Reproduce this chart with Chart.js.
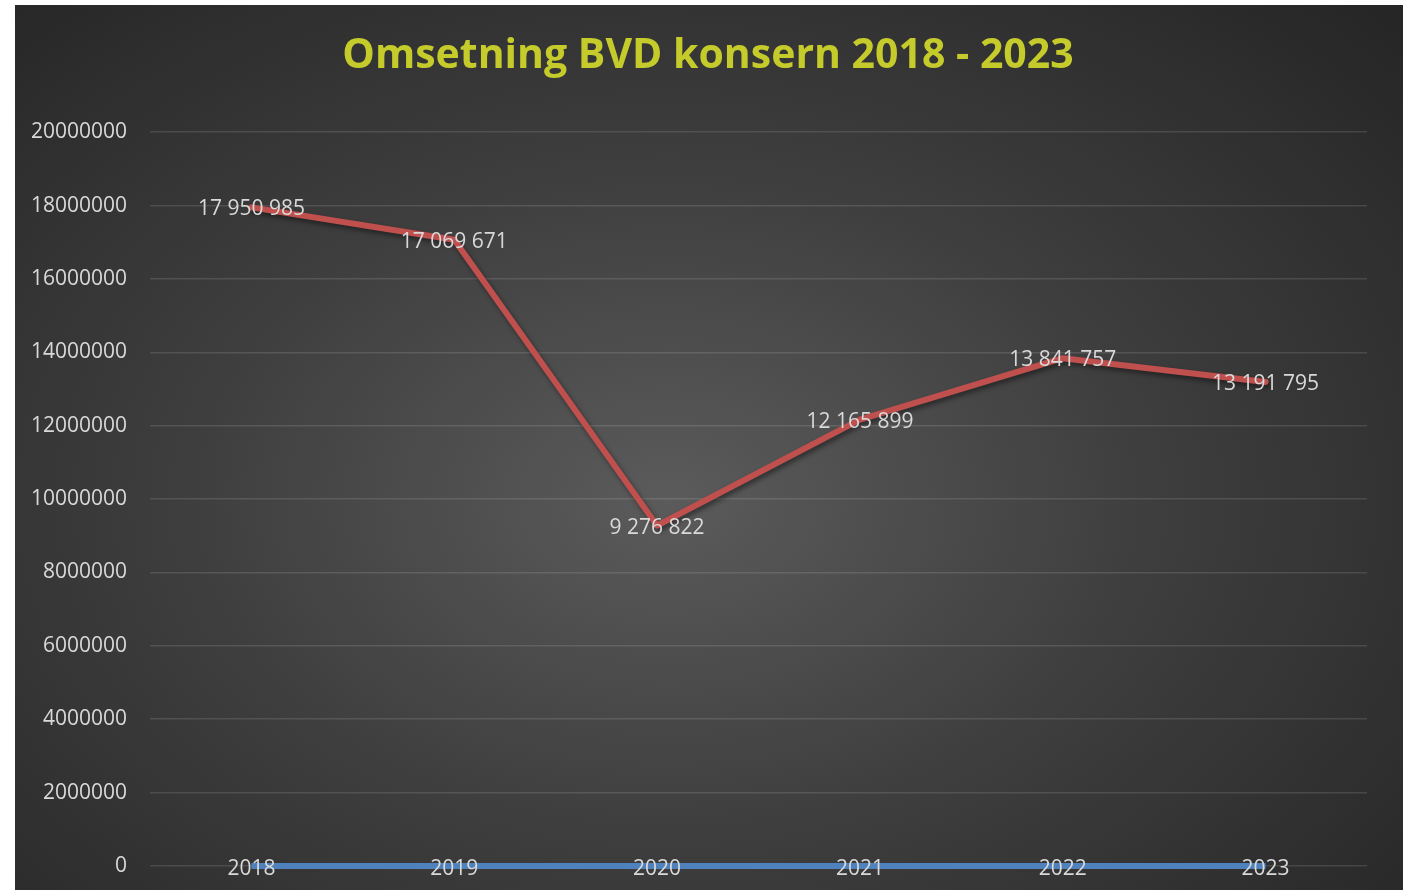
<!DOCTYPE html>
<html><head><meta charset="utf-8">
<script src="https://cdn.jsdelivr.net/npm/chart.js@4.4.0/dist/chart.umd.min.js"></script>
<style>
html,body{margin:0;padding:0;background:#ffffff;}
#wrap{position:absolute;left:15px;top:5px;width:1388px;height:885px;
background:radial-gradient(ellipse 72% 78% at 47% 56%, #5b5b5b 0%, #3d3d3d 50%, #262626 100%);}
</style></head><body>
<div id="wrap"><canvas id="c"></canvas></div>
<script>
const categories = ['2018', '2019', '2020', '2021', '2022', '2023'];
const revenue = [17950985, 17069671, 9276822, 12165899, 13841757, 13191795];
const baseline = [0, 0, 0, 0, 0, 0];
const yMin = 0, yMax = 20000000, yStep = 2000000;
const titleText = 'Omsetning BVD konsern 2018 - 2023';

function fmtSpace(v){ return String(v).replace(/\B(?=(\d{3})+(?!\d))/g, ' '); }

const shadowPlugin = {
  id: 'lineShadow',
  beforeDatasetDraw(chart, args){
    if (args.index === 0){
      const ctx = chart.ctx; ctx.save();
      ctx.shadowColor = 'rgba(0,0,0,0.45)'; ctx.shadowBlur = 5;
      ctx.shadowOffsetX = 2; ctx.shadowOffsetY = 3;
    }
  },
  afterDatasetDraw(chart, args){ if (args.index === 0) chart.ctx.restore(); }
};

const valueLabels = {
  id: 'valueLabels',
  afterDatasetsDraw(chart){
    const meta = chart.getDatasetMeta(0);
    const ctx = chart.ctx;
    ctx.save();
    ctx.font = '21px "Open Sans"';
    ctx.fillStyle = '#d9d9d9';
    ctx.textAlign = 'center'; ctx.textBaseline = 'middle';
    meta.data.forEach((pt, i) => ctx.fillText(fmtSpace(revenue[i]), pt.x, pt.y + 2));
    ctx.restore();
  }
};

new Chart(document.getElementById('c'), {
  type: 'line',
  data: {
    labels: categories,
    datasets: [
      { label: 'Omsetning', data: revenue, borderColor: '#c0504d', borderWidth: 6, clip: 8,
        pointRadius: 0, tension: 0, fill: false, borderCapStyle: 'round', borderJoinStyle: 'round' },
      { label: 'Basis', data: baseline, borderColor: '#4f81bd', borderWidth: 6, clip: 8,
        pointRadius: 0, tension: 0, fill: false }
    ]
  },
  options: {
    responsive: true, maintainAspectRatio: false, animation: false,
    layout: { padding: { left: 16, right: 18, top: 0, bottom: 0 } },
    plugins: {
      legend: { display: false }, tooltip: { enabled: false },
      title: { display: true, text: titleText, color: '#c5cb2b',
        font: { family: '"Open Sans"', size: 41, weight: 'bold' },
        padding: { top: 27, bottom: 51 } }
    },
    scales: {
      x: { offset: true, grid: { display: false }, border: { display: false },
        afterFit: s => { s.height = 24; },
        ticks: { z: 1, mirror: true, color: '#d9d9d9', padding: -16, maxRotation: 0,
          font: { family: '"Open Sans"', size: 21 } } },
      y: { min: yMin, max: yMax, border: { display: false },
        afterFit: s => { s.width = 119; },
        grid: { color: 'rgba(255,255,255,0.12)', lineWidth: 1.5, drawTicks: true,
          tickLength: 23, tickColor: 'rgba(0,0,0,0)' },
        ticks: { stepSize: yStep, color: '#d9d9d9', padding: 0,
          font: { family: '"Open Sans"', size: 21 }, callback: v => String(v) } },
      yRight: { position: 'right', display: true, grid: { display: false },
        border: { display: false }, ticks: { display: false },
        afterFit: s => { s.width = 18; } }
    }
  },
  plugins: [shadowPlugin, valueLabels]
});
</script>
</body></html>
